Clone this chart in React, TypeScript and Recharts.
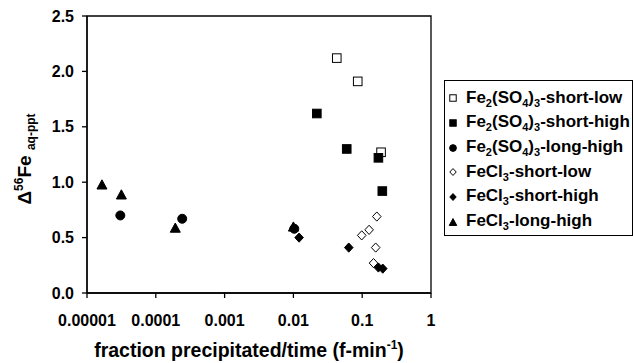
import React from 'react';
import {
  ScatterChart,
  Scatter,
  XAxis,
  YAxis,
  ReferenceArea,
  Label,
} from 'recharts';

// (log x axis)
const so4ShortLow = [
  { x: 0.0427, y: 2.12 },
  { x: 0.0861, y: 1.91 },
  { x: 0.188, y: 1.27 },
];
const so4ShortHigh = [
  { x: 0.0219, y: 1.62 },
  { x: 0.0596, y: 1.3 },
  { x: 0.172, y: 1.22 },
  { x: 0.196, y: 0.92 },
];
const so4LongHigh = [
  { x: 0.0000305, y: 0.7 },
  { x: 0.000242, y: 0.67 },
  { x: 0.0103, y: 0.58 },
];
const clShortLow = [
  { x: 0.163, y: 0.69 },
  { x: 0.126, y: 0.57 },
  { x: 0.0984, y: 0.52 },
  { x: 0.157, y: 0.41 },
  { x: 0.146, y: 0.27 },
];
const clShortHigh = [
  { x: 0.0121, y: 0.5 },
  { x: 0.0638, y: 0.41 },
  { x: 0.172, y: 0.23 },
  { x: 0.199, y: 0.22 },
];
const clLongHigh = [
  { x: 0.0000165, y: 0.98 },
  { x: 0.0000316, y: 0.89 },
  { x: 0.000192, y: 0.59 },
  { x: 0.01, y: 0.6 },
];

const xTicks = [0.00001, 0.0001, 0.001, 0.01, 0.1, 1];
const xTickLabels = ['0.00001', '0.0001', '0.001', '0.01', '0.1', '1'];
const yTicks = [0, 0.5, 1, 1.5, 2, 2.5];

type MarkerKind = 'square' | 'circle' | 'diamond' | 'triangle';

const seriesList = [
  { key: 'so4sl', data: so4ShortLow, kind: 'square' as MarkerKind, open: true, main: 'Fe', sub1: '2', mid: '(SO', sub2: '4', mid2: ')', sub3: '3', tail: '-short-low' },
  { key: 'so4sh', data: so4ShortHigh, kind: 'square' as MarkerKind, open: false, main: 'Fe', sub1: '2', mid: '(SO', sub2: '4', mid2: ')', sub3: '3', tail: '-short-high' },
  { key: 'so4lh', data: so4LongHigh, kind: 'circle' as MarkerKind, open: false, main: 'Fe', sub1: '2', mid: '(SO', sub2: '4', mid2: ')', sub3: '3', tail: '-long-high' },
  { key: 'clsl', data: clShortLow, kind: 'diamond' as MarkerKind, open: true, main: 'FeCl', sub1: '3', tail: '-short-low' },
  { key: 'clsh', data: clShortHigh, kind: 'diamond' as MarkerKind, open: false, main: 'FeCl', sub1: '3', tail: '-short-high' },
  { key: 'cllh', data: clLongHigh, kind: 'triangle' as MarkerKind, open: false, main: 'FeCl', sub1: '3', tail: '-long-high' },
];

const FONT = '"Liberation Sans", Arial, sans-serif';

function Marker({ cx, cy, kind, open, s = 1 }: any) {
  const fill = open ? '#fff' : '#000';
  const stroke = '#000';
  if (kind === 'square') {
    const h = 4.3 * s;
    return <rect x={cx - h} y={cy - h} width={2 * h} height={2 * h} fill={fill} stroke={stroke} strokeWidth={1} />;
  }
  if (kind === 'circle') {
    return <circle cx={cx} cy={cy} r={4.5 * s} fill={fill} stroke={stroke} strokeWidth={1} />;
  }
  if (kind === 'diamond') {
    const w = 4.3 * s;
    const h = 4.6 * s;
    return (
      <path
        d={`M${cx},${cy - h}L${cx + w},${cy}L${cx},${cy + h}L${cx - w},${cy}Z`}
        fill={fill}
        stroke={stroke}
        strokeWidth={1}
      />
    );
  }
  const w = 5 * s;
  const h = 4.6 * s;
  return (
    <path
      d={`M${cx},${cy - h}L${cx + w},${cy + h}L${cx - w},${cy + h}Z`}
      fill={fill}
      stroke={stroke}
      strokeWidth={1}
    />
  );
}

function LegendBox() {
  return (
    <div
      style={{
        position: 'absolute',
        left: 444,
        top: 80,
        width: 189,
        height: 156,
        border: '1px solid #000',
        boxSizing: 'border-box',
        paddingTop: 5,
        fontFamily: FONT,
        fontWeight: 'bold',
        fontSize: 17,
        color: '#000',
        overflow: 'hidden',
      }}
    >
      {seriesList.map((s) => (
        <div key={s.key} style={{ height: 24.7, display: 'flex', alignItems: 'center' }}>
          <svg width={14} height={14} style={{ marginLeft: 1, marginRight: 6, flexShrink: 0 }}>
            <Marker cx={7} cy={7} kind={s.kind} open={s.open} s={0.75} />
          </svg>
          <span style={{ whiteSpace: 'nowrap' }}>
            {s.main}
            <sub style={{ fontSize: 11 }}>{s.sub1}</sub>
            {s.mid}
            {s.sub2 && <sub style={{ fontSize: 11 }}>{s.sub2}</sub>}
            {s.mid2}
            {s.sub3 && <sub style={{ fontSize: 11 }}>{s.sub3}</sub>}
            {s.tail}
          </span>
        </div>
      ))}
    </div>
  );
}

export default function App() {
  const tickStyle = { fill: '#000', fontSize: 16, fontWeight: 'bold', fontFamily: FONT };
  return (
    <div style={{ position: 'absolute', left: 0, top: 0, width: 634, height: 363, background: '#fff', fontFamily: FONT }}>
      <ScatterChart width={634} height={363} margin={{ top: 16, right: 203, bottom: 0, left: 0 }}>
        <XAxis
          dataKey="x"
          type="number"
          scale="log"
          domain={[0.00001, 1]}
          ticks={xTicks}
          allowDataOverflow
          tickFormatter={(v: number) => xTickLabels[xTicks.indexOf(v)] ?? String(v)}
          tick={tickStyle}
          tickSize={5}
          tickMargin={17}
          height={70}
          axisLine={{ stroke: '#000', strokeWidth: 1.3 }}
          tickLine={{ stroke: '#000', strokeWidth: 1.3 }}
        >
          <Label
            content={() => (
              <text x={249} y={357} textAnchor="middle" fontFamily={FONT} fontWeight="bold" fontSize={19.5} fill="#000">
                fraction precipitated/time (f-min
                <tspan dy={-8} fontSize={12}>-1</tspan>
                <tspan dy={8} fontSize={19.5}>)</tspan>
              </text>
            )}
          />
        </XAxis>
        <YAxis
          dataKey="y"
          type="number"
          domain={[0, 2.5]}
          ticks={yTicks}
          tickFormatter={(v: number) => v.toFixed(1)}
          tick={tickStyle}
          tickSize={5}
          tickMargin={8}
          width={87}
          axisLine={{ stroke: '#000', strokeWidth: 1.3 }}
          tickLine={{ stroke: '#000', strokeWidth: 1.3 }}
        >
          <Label
            content={() => (
              <text
                x={31}
                y={159}
                transform="rotate(-90 31 159)"
                textAnchor="middle"
                fontFamily={FONT}
                fontWeight="bold"
                fontSize={19}
                fill="#000"
              >
                Δ
                <tspan dy={-8} fontSize={12}>56</tspan>
                <tspan dy={8} fontSize={19}>Fe </tspan>
                <tspan dy={4} fontSize={12}>aq-ppt</tspan>
              </text>
            )}
          />
        </YAxis>
        <ReferenceArea
          x1={0.00001}
          x2={1}
          y1={0}
          y2={2.5}
          fill="none"
          fillOpacity={0}
          stroke="#000"
          strokeWidth={1.3}
          ifOverflow="visible"
        />
        {seriesList.map((s) => (
          <Scatter
            key={s.key}
            data={s.data}
            isAnimationActive={false}
            shape={(p: any) => <Marker cx={p.cx} cy={p.cy} kind={s.kind} open={s.open} />}
          />
        ))}
      </ScatterChart>
      <LegendBox />
    </div>
  );
}
